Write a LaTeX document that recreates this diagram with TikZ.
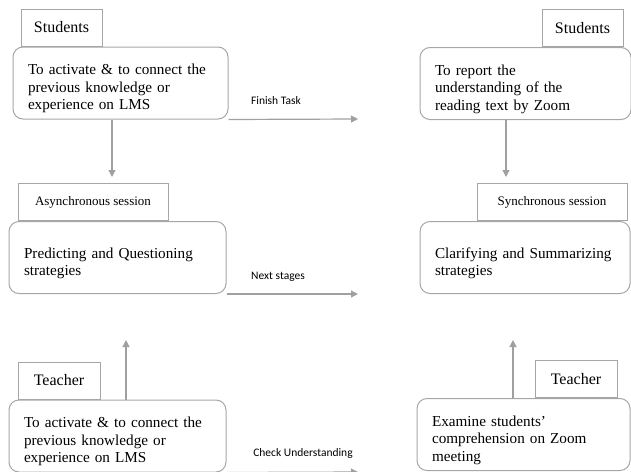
\documentclass[tikz,border=0pt]{standalone}
\usepackage{fontspec}
\setmainfont{Liberation Serif}
\newfontfamily\lblfont{Carlito}
\usetikzlibrary{arrows.meta,positioning}
\tikzset{>={Triangle[length=7pt,width=7pt]}}
\definecolor{edgegray}{HTML}{A6A6A6}
\definecolor{arrowgray}{HTML}{A0A0A0}
\tikzset{
  box/.style={draw=edgegray,line width=1pt,rounded corners=10pt,inner xsep=15pt,
    inner ysep=0pt,align=left,minimum height=72pt,text height=22pt,
    font=\fontsize{15.2}{17.5}\selectfont},
  tab/.style={draw=edgegray,line width=1pt,minimum height=37pt,inner xsep=0pt},
  bigtab/.style={tab,font=\fontsize{16}{18}\selectfont},
  smalltab/.style={tab,font=\fontsize{13}{15}\selectfont,minimum width=150pt},
  flow/.style={draw=arrowgray,line width=1.2pt,->},
  lbl/.style={font=\lblfont\fontsize{11.5}{13}\selectfont}
}

\begin{document}
\begin{tikzpicture}[x=1pt,y=-1pt]
\useasboundingbox (0,0) rectangle (631,471);
\node[box,text width=185pt] (stuA) at (120.5,83) {To activate \& to connect the\\previous knowledge or\\experience on LMS};
\node[box,text width=181pt] (stuB) at (525.5,83.5) {To report the\\understanding of the\\reading text by Zoom};
\node[box,text width=187pt] (asyB) at (117.5,257.5) {Predicting and Questioning\\strategies};
\node[box,text width=180pt] (synB) at (525,257.5) {Clarifying and Summarizing\\strategies};
\node[box,text width=187pt] (teaA) at (117.5,436) {To activate \& to connect the\\previous knowledge or\\experience on LMS};
\node[box,text width=183pt] (teaB) at (523.5,434.5) {Examine students'\\comprehension on Zoom\\meeting};
\node[bigtab,minimum width=81pt,above right=0pt and 8pt of stuA.north west] (stuTabA) {Students};
\node[bigtab,minimum width=81pt,above left=0pt and 8pt of stuB.north east] (stuTabB) {Students};
\node[smalltab,above right=0pt and 9pt of asyB.north west] (asyTab) {Asynchronous session};
\node[smalltab,above left=0pt and 3pt of synB.north east] (synTab) {Synchronous session};
\node[bigtab,minimum width=82pt,above right=0pt and 9pt of teaA.north west] (teaTabA) {Teacher};
\node[bigtab,minimum width=82pt,above left=0pt and 13pt of teaB.north east] (teaTabB) {Teacher};
\coordinate (ftEnd) at (358,119);
\coordinate (nsEnd) at (358,294);
\coordinate (cuEnd) at (358,472);
\coordinate (dnA) at (112,177);
\coordinate (dnB) at (506,177);
\coordinate (upA) at (126,340);
\coordinate (upB) at (513,340);
\draw[flow] (stuA.south east) -- (ftEnd);
\draw[flow] (asyB.south east) -- (nsEnd);
\draw[flow] (teaA.south east) -- (cuEnd);
\draw[flow] (dnA |- stuA.south) -- (dnA);
\draw[flow] (dnB |- stuB.south) -- (dnB);
\draw[flow] (upA |- teaA.north) -- (upA);
\draw[flow] (upB |- teaB.north) -- (upB);
\node[lbl] (ftLbl) at (276,101) {Finish Task};
\node[lbl] (nsLbl) at (278,277) {Next stages};
\node[lbl] (cuLbl) at (303,453) {Check Understanding};
\end{tikzpicture}
\end{document}
